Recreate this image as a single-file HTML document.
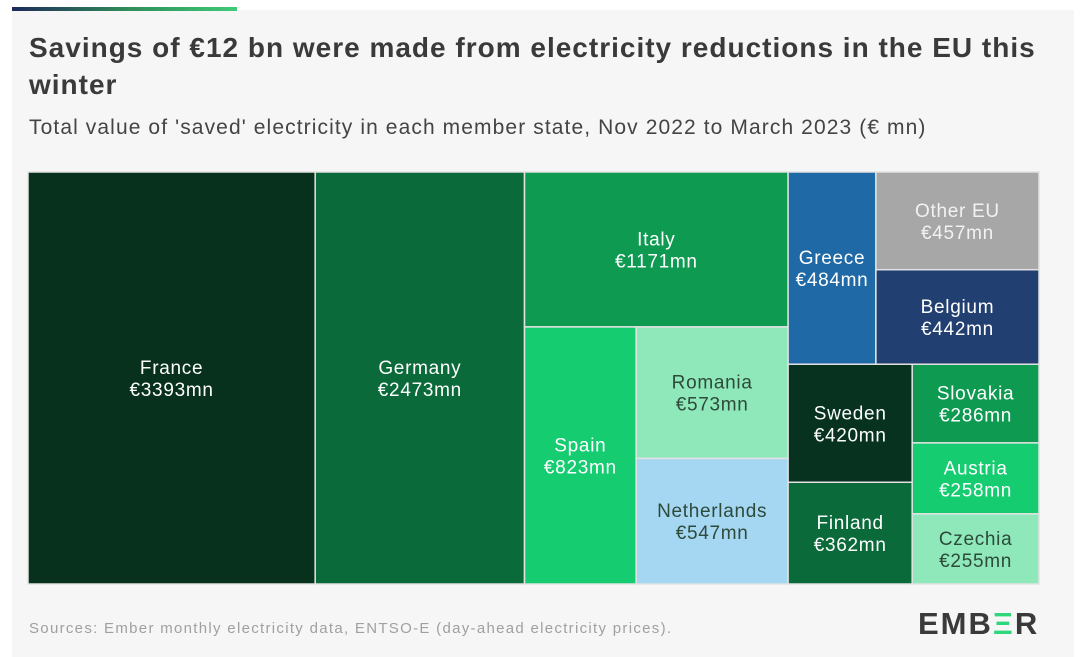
<!DOCTYPE html>
<html><head><meta charset="utf-8"><style>
body{margin:0;width:1080px;height:657px;background:#fff;font-family:"Liberation Sans",sans-serif;overflow:hidden;position:relative}
#panel{position:absolute;left:12px;top:10px;width:1062px;height:647px;background:#f6f6f6}
#bar{position:absolute;left:12px;top:7px;width:225px;height:4px;background:linear-gradient(90deg,#1d2a5a,#2f8a5a,#3ecb78)}
.t{position:absolute;left:29px;color:#333;white-space:nowrap}
#title{top:29px;font-size:28px;line-height:37px;font-weight:bold;color:#3a3a3a;letter-spacing:1px}
#sub{top:116px;font-size:21px;color:#444;letter-spacing:1.1px}
#src{top:620px;font-size:15px;color:#a0a0a0;letter-spacing:1.3px}
#logo{position:absolute;left:918px;top:606px;font-size:31px;font-weight:bold;color:#3a3a3a;letter-spacing:2px}
#tm{position:absolute;left:0;top:0}
</style></head><body>
<div id="panel"></div>
<div id="bar"></div>
<div class="t" id="title">Savings of €12 bn were made from electricity reductions in the EU this<br>winter</div>
<div class="t" id="sub">Total value of 'saved' electricity in each member state, Nov 2022 to March 2023 (€ mn)</div>
<svg id="tm" width="1080" height="657"></svg>
<div class="t" id="src">Sources: Ember monthly electricity data, ENTSO-E (day-ahead electricity prices).</div>
<div id="logo">EMB<span style="color:#2ed67c">Ξ</span>R</div>
<script>
const countries=["France","Germany","Italy","Spain","Romania","Netherlands","Greece","Other EU","Belgium","Sweden","Finland","Slovakia","Austria","Czechia"];
const values=[3393,2473,1171,823,573,547,484,457,442,420,362,286,258,255];
const colors=["#07301d","#0b6a3a","#0f9a52","#15cc70","#8ee8b9","#a5d6f2","#1f6aa6","#a7a7a7","#213f70","#073220","#0b6a3a","#0f9a52","#15cc70","#8ee8b9"];
const textColors=["#fff","#fff","#fff","#fff","#2d4a3b","#2d4a3b","#fff","#f2f2f2","#fff","#fff","#fff","#fff","#fff","#2d4a3b"];
const tree={d:'h',c:[0,1,{d:'v',c:[2,{d:'h',c:[3,{d:'v',c:[4,5]}]}]},{d:'v',c:[{d:'h',c:[6,{d:'v',c:[7,8]}]},{d:'h',c:[{d:'v',c:[9,10]},{d:'v',c:[11,12,13]}]}]}]};
const X0=28,Y0=172,W=1011,H=412;
const svg=document.getElementById('tm');const NS='http://www.w3.org/2000/svg';
function sum(n){return typeof n==='number'?values[n]:n.c.reduce((a,b)=>a+sum(b),0);}
function layout(n,x,y,w,h){
 if(typeof n==='number'){draw(n,x,y,w,h);return;}
 const tot=sum(n);let off=0;
 n.c.forEach(ch=>{const f=sum(ch)/tot;
  if(n.d==='h'){layout(ch,x+off,y,w*f,h);off+=w*f;}else{layout(ch,x,y+off,w,h*f);off+=h*f;}});
}
function draw(i,x,y,w,h){
 const g=document.createElementNS(NS,'g');
 
 
 const r=document.createElementNS(NS,'rect');
 r.setAttribute('x',x);r.setAttribute('y',y);r.setAttribute('width',w);r.setAttribute('height',h);
 r.setAttribute('fill',colors[i]);r.setAttribute('stroke','#e2e2e2');r.setAttribute('stroke-width','1.5');
 g.appendChild(r);
 [[countries[i],-4],['€'+values[i]+'mn',18]].forEach(([s,dy])=>{
  const t=document.createElementNS(NS,'text');
  t.setAttribute('x',x+w/2);t.setAttribute('y',y+h/2+dy);t.setAttribute('text-anchor','middle');
  t.setAttribute('font-size','19');t.setAttribute('letter-spacing','0.7');t.setAttribute('fill',textColors[i]);
  t.setAttribute('font-family','Liberation Sans, sans-serif');t.textContent=s;g.appendChild(t);
 });
 svg.appendChild(g);
}
layout(tree,X0,Y0,W,H);
</script>
</body></html>
